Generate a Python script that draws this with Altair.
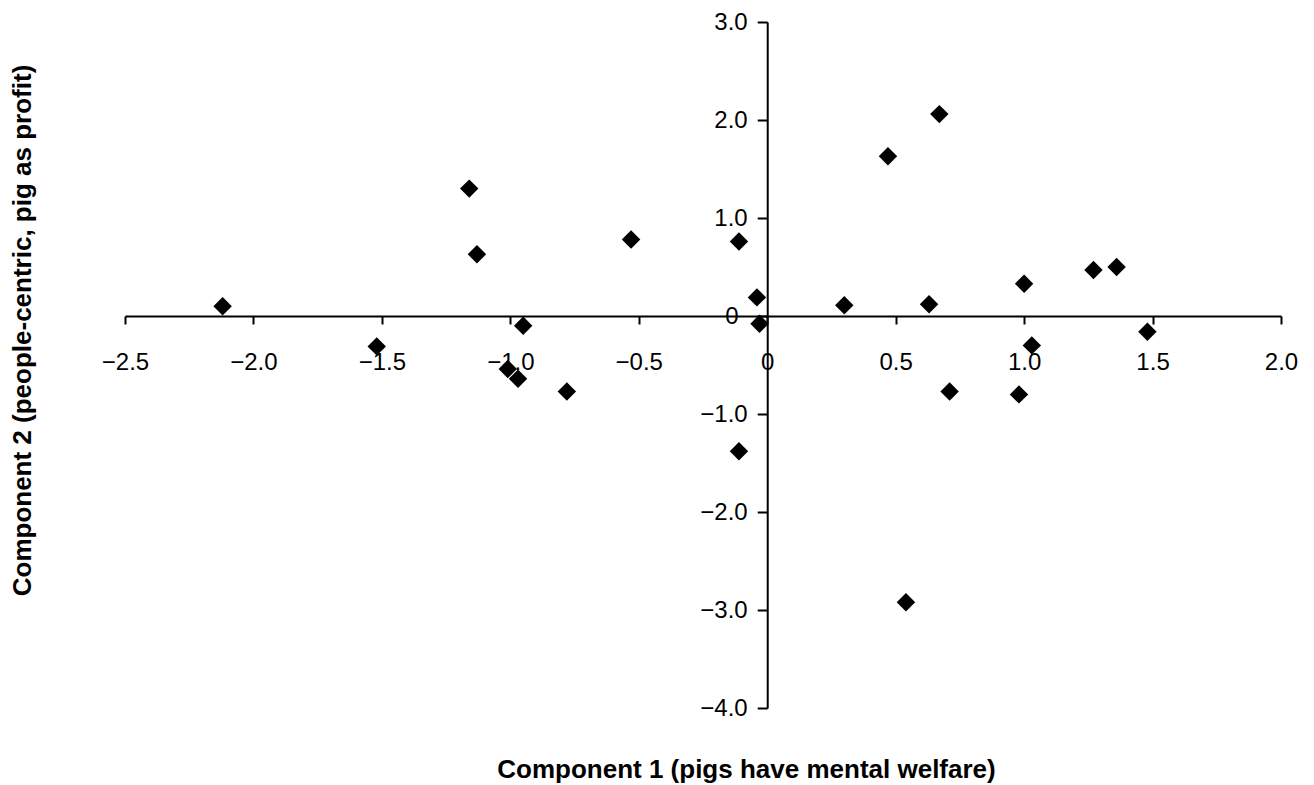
import altair as alt
import pandas as pd

# Component scores
comp1 = [-2.12, -1.52, -1.16, -1.13, -0.95, -1.01, -0.97, -0.78, -0.53, -0.11,
         -0.11, -0.04, -0.03, 0.30, 0.47, 0.67, 0.63, 0.71, 0.54, 1.00,
         1.03, 0.98, 1.27, 1.36, 1.48]
comp2 = [0.10, -0.31, 1.30, 0.63, -0.10, -0.54, -0.64, -0.77, 0.78, 0.76,
         -1.38, 0.19, -0.08, 0.11, 1.63, 2.06, 0.12, -0.77, -2.92, 0.33,
         -0.30, -0.80, 0.47, 0.50, -0.16]

x_ticks = [-2.5, -2.0, -1.5, -1.0, -0.5, 0.0, 0.5, 1.0, 1.5, 2.0]
y_ticks = [3, 2, 1, 0, -1, -2, -3, -4]
x_title = "Component 1 (pigs have mental welfare)"
y_title = "Component 2 (people-centric, pig as profit)"

df = pd.DataFrame({"c1": comp1, "c2": comp2})

W, H = 1156, 686
x_dom = [-2.5, 2.0]
y_dom = [-4, 3]
# put axes through the origin
x_axis_y = H * (y_dom[1] - 0) / (y_dom[1] - y_dom[0])      # from top
x_off = -(H - x_axis_y)
y_axis_x = W * (0 - x_dom[0]) / (x_dom[1] - x_dom[0])
y_off = -y_axis_x

FONT = "Liberation Sans"
label_expr = "datum.value == 0 ? '0' : format(datum.value, '.1f')"

common = dict(grid=False, domainColor="#000", domainWidth=2, tickColor="#000",
              tickWidth=2, labelColor="#000", labelFont=FONT, labelFontSize=24,
              labelOverlap=False, labelFlush=False, labelBound=False,
              titleFont=FONT, titleFontSize=26, titleFontWeight="bold",
              titleColor="#000", zindex=0, labelExpr=label_expr)

chart = alt.Chart(df).mark_point(
    shape="diamond", filled=True, size=340, color="#000", opacity=1, strokeWidth=0
).encode(
    x=alt.X("c1:Q", scale=alt.Scale(domain=x_dom, nice=False, zero=False),
            axis=alt.Axis(values=x_ticks, offset=x_off, tickSize=8, labelPadding=26,
                          title=x_title, titleX=621, titleY=461,
                          titleAlign="center", titleBaseline="alphabetic", **common)),
    y=alt.Y("c2:Q", scale=alt.Scale(domain=y_dom, nice=False, zero=False),
            axis=alt.Axis(values=y_ticks, offset=y_off, tickSize=10,
                          labelPadding={"condition": {"test": "datum.value == 0", "value": 19},
                                        "value": 10},
                          title=y_title, titleX=-103 - y_axis_x, titleY=308,
                          titleAngle=270, titleAlign="center", titleBaseline="middle",
                          **common)),
).properties(
    width=W, height=H,
    autosize=alt.AutoSizeParams(type="none"),
    padding={"left": 117, "top": 14, "right": 20, "bottom": 77},
).configure_view(stroke=None)

chart.save("out.html", embed_options={"renderer": "svg", "actions": False})
